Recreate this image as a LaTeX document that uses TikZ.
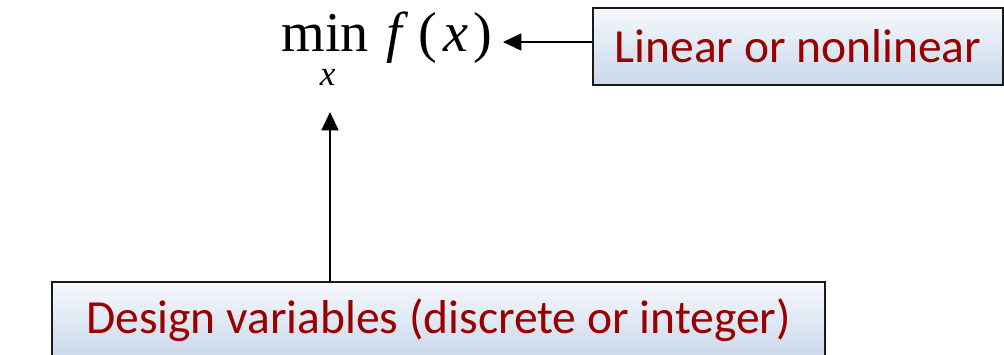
\documentclass[tikz,border=0pt]{standalone}
\usepackage{fontspec}
\setmainfont{Carlito}
\newfontfamily\eqfont{Liberation Serif}
\newfontfamily\eqitfont{Liberation Serif Italic}
\definecolor{optred}{HTML}{990000}
\definecolor{optedge}{HTML}{1A1A1A}
\definecolor{opttop}{HTML}{F6F8FC}
\definecolor{optbot}{HTML}{C9D8EA}
\usetikzlibrary{arrows.meta,positioning}

\begin{document}
\begin{tikzpicture}[
  tag/.style={draw=optedge, line width=1.4pt, top color=opttop, bottom color=optbot,
              minimum height=1.925cm, inner sep=0pt, align=center,
              text=optred, font=\fontsize{33.8}{36}\selectfont},
  eq/.style={inner sep=0pt, font=\eqfont\fontsize{40}{44}\selectfont},
  arr/.style={-{Triangle[length=13pt,width=12pt]},draw=black,line width=1.4pt}
]
  \useasboundingbox (0,0) rectangle (25.1,-8.875);

  % objective
  \node[eq, anchor=base west] (minop) at (7.025,-1.3)
    {\begin{tabular}[t]{@{}c@{}}min\\[-20.5pt]
     {\eqitfont\fontsize{25}{28}\selectfont\hspace{0.15em}x}\end{tabular}};
  \node[eq, anchor=base west] (fx) at (9.65,-1.3)
    {{\eqitfont f}\hspace{0.3em}(\hspace{0.1em}{\eqitfont x}\hspace{0.1em})};

  % boxes
  \node[tag, minimum width=10.25cm] (lin) at (19.95,-1.1625) {Linear or nonlinear};
  \node[tag, minimum width=19.325cm] (design) at (10.9625,-8.0125)
    {Design variables (discrete or integer)};

  \coordinate (fxin) at (12.575,-1.05);
  \coordinate (subin) at (8.25,-2.8);

  \draw[arr] (lin.west |- fxin) -- (fxin);
  \draw[arr] (design.north -| subin) -- (subin);

\end{tikzpicture}
\end{document}
